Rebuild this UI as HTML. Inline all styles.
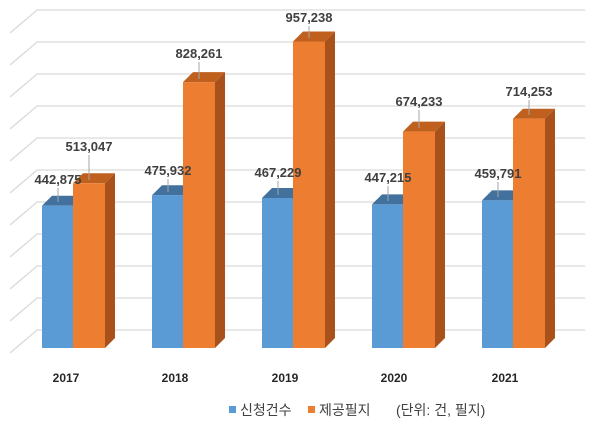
<!DOCTYPE html>
<html><head><meta charset="utf-8"><style>
html,body{margin:0;padding:0;background:#fff;}
svg{display:block;}
text{font-family:"Liberation Sans","Noto Sans CJK KR",sans-serif;}
</style></head><body>
<svg width="605" height="428" viewBox="0 0 605 428" xmlns="http://www.w3.org/2000/svg">
<g stroke="#d9d9d9" stroke-width="1.3" fill="none">
<polyline points="10,33 37,10 585,10"/>
<polyline points="10,65 37,42 585,42"/>
<polyline points="10,97 37,74 585,74"/>
<polyline points="10,129 37,106 585,106"/>
<polyline points="10,161 37,138 585,138"/>
<polyline points="10,193 37,170 585,170"/>
<polyline points="10,225 37,202 585,202"/>
<polyline points="10,257 37,234 585,234"/>
<polyline points="10,289 37,266 585,266"/>
<polyline points="10,321 37,298 585,298"/>
<polyline points="10,353 37,330 585,330"/>
</g>
<g>
<polygon points="42,205.8 52,195.8 83,195.8 73,205.8" fill="#41719c"/>
<rect x="42" y="205.8" width="31" height="142.2" fill="#5b9bd5"/>
<polygon points="73,183.3 83,173.3 115,173.3 105,183.3" fill="#c0601f"/>
<polygon points="105,183.3 115,173.3 115,338 105,348" fill="#a8511a"/>
<rect x="73" y="183.3" width="32" height="164.7" fill="#ed7d31"/>
<polygon points="152,195.2 162,185.2 193,185.2 183,195.2" fill="#41719c"/>
<rect x="152" y="195.2" width="31" height="152.8" fill="#5b9bd5"/>
<polygon points="183,82.1 193,72.1 225,72.1 215,82.1" fill="#c0601f"/>
<polygon points="215,82.1 225,72.1 225,338 215,348" fill="#a8511a"/>
<rect x="183" y="82.1" width="32" height="265.9" fill="#ed7d31"/>
<polygon points="262,198 272,188 303,188 293,198" fill="#41719c"/>
<rect x="262" y="198" width="31" height="150" fill="#5b9bd5"/>
<polygon points="293,41.5 303,31.5 335,31.5 325,41.5" fill="#c0601f"/>
<polygon points="325,41.5 335,31.5 335,338 325,348" fill="#a8511a"/>
<rect x="293" y="41.5" width="32" height="306.5" fill="#ed7d31"/>
<polygon points="372,204.4 382,194.4 413,194.4 403,204.4" fill="#41719c"/>
<rect x="372" y="204.4" width="31" height="143.6" fill="#5b9bd5"/>
<polygon points="403,131.6 413,121.6 445,121.6 435,131.6" fill="#c0601f"/>
<polygon points="435,131.6 445,121.6 445,338 435,348" fill="#a8511a"/>
<rect x="403" y="131.6" width="32" height="216.4" fill="#ed7d31"/>
<polygon points="482,200.4 492,190.4 523,190.4 513,200.4" fill="#41719c"/>
<rect x="482" y="200.4" width="31" height="147.6" fill="#5b9bd5"/>
<polygon points="513,118.7 523,108.7 555,108.7 545,118.7" fill="#c0601f"/>
<polygon points="545,118.7 555,108.7 555,338 545,348" fill="#a8511a"/>
<rect x="513" y="118.7" width="32" height="229.3" fill="#ed7d31"/>
</g>
<g stroke="#a6a6a6" stroke-width="1">
<line x1="58" y1="188" x2="58" y2="202"/>
<line x1="89" y1="155" x2="89" y2="180"/>
<line x1="168" y1="179" x2="168" y2="192"/>
<line x1="199" y1="62" x2="199" y2="79"/>
<line x1="278" y1="181" x2="278" y2="195"/>
<line x1="309" y1="26" x2="309" y2="38"/>
<line x1="388" y1="186" x2="388" y2="201"/>
<line x1="419" y1="110" x2="419" y2="128"/>
<line x1="498" y1="182" x2="498" y2="197"/>
<line x1="529" y1="100" x2="529" y2="115"/>
</g>
<g font-size="13" font-weight="bold" fill="#404040" text-anchor="middle">
<text x="58" y="184">442,875</text>
<text x="89" y="151">513,047</text>
<text x="168" y="175">475,932</text>
<text x="199" y="58">828,261</text>
<text x="278" y="177">467,229</text>
<text x="309" y="22">957,238</text>
<text x="388" y="182">447,215</text>
<text x="419" y="106">674,233</text>
<text x="498" y="178">459,791</text>
<text x="529" y="96">714,253</text>
</g>
<g font-size="12" font-weight="bold" fill="#262626" text-anchor="middle">
<text x="66" y="382">2017</text>
<text x="175" y="382">2018</text>
<text x="285" y="382">2019</text>
<text x="394" y="382">2020</text>
<text x="505" y="382">2021</text>
</g>
<rect x="229" y="406" width="7" height="7" fill="#5b9bd5"/>
<text x="240" y="415" font-size="14" fill="#404040">신청건수</text>
<rect x="308" y="406" width="7" height="7" fill="#ed7d31"/>
<text x="319" y="415" font-size="14" fill="#404040">제공필지</text>
<text x="396" y="415" font-size="14" fill="#404040">(단위: 건, 필지)</text>
</svg>
</body></html>
